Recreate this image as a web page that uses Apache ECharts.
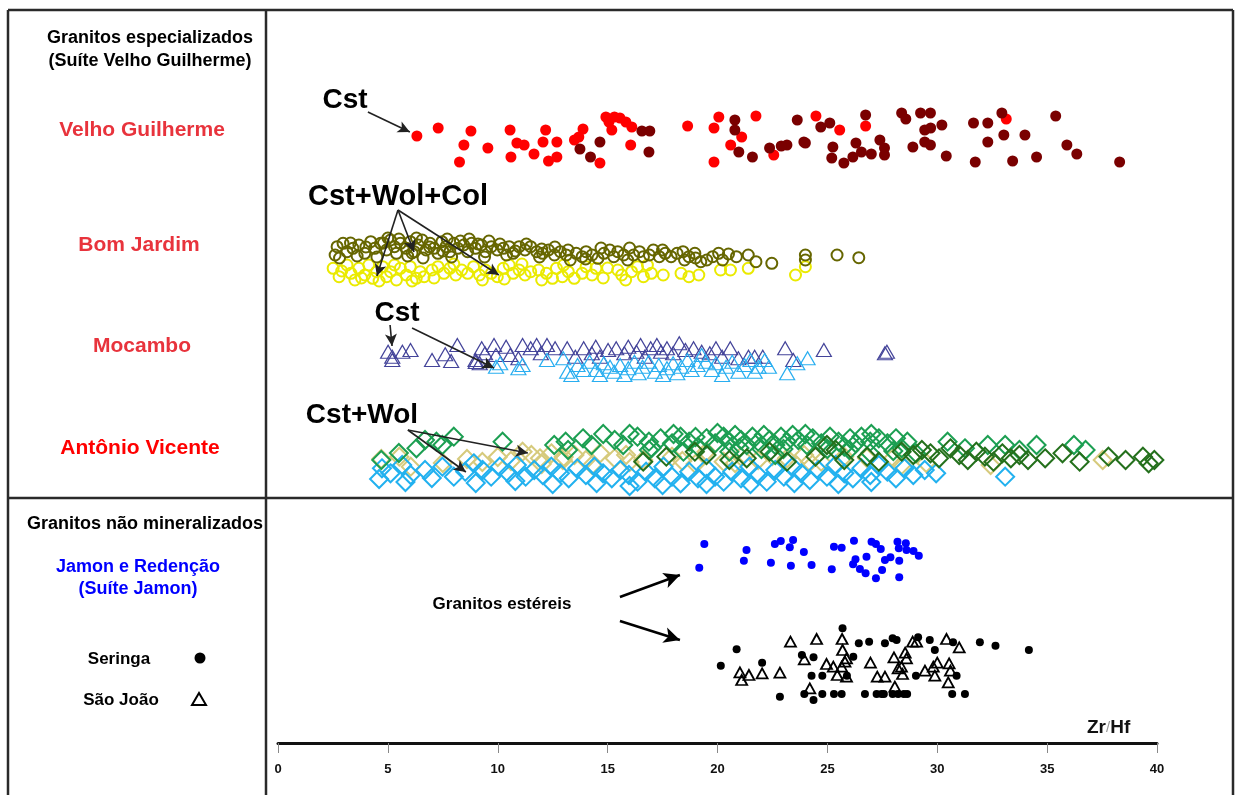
<!DOCTYPE html>
<html><head><meta charset="utf-8">
<script src="https://cdn.jsdelivr.net/npm/echarts@6/dist/echarts.min.js"></script>
<style>html,body{margin:0;padding:0;background:#fff}#c{width:1237px;height:795px}</style>
</head><body><div id="c"></div>
<script>
// x = Zr/Hf ratio ; y = arbitrary vertical jitter position (0 = axis line, ~73 = top)
const xTicks = [0,5,10,15,20,25,30,35,40];

const vgRed = [[6.32,60.7],[7.29,61.5],[8.78,61.2],[8.46,59.8],[8.26,58.1],[9.55,59.5],[10.56,61.3],[10.6,58.6],[10.87,60.0],[11.2,59.8],[11.65,58.9],[12.18,61.3],[12.06,60.1],[12.31,58.2],[12.69,60.1],[12.69,58.6],[13.49,60.3],[13.88,61.4],[13.69,60.6],[14.65,58.0],[15.06,62.1],[15.31,62.6],[15.56,62.5],[15.19,61.3],[15.83,62.1],[16.1,61.6],[16.05,59.8],[14.92,62.6],[18.64,61.7],[19.84,61.5],[20.06,62.6],[20.6,59.8],[19.84,58.1],[21.1,60.6],[21.75,62.7],[22.56,58.8],[24.48,62.7],[25.56,61.3],[26.74,61.7],[33.14,62.4]];
const vgDark = [[13.74,59.4],[14.22,58.6],[14.65,60.1],[16.56,61.2],[16.92,61.2],[16.88,59.1],[20.79,62.3],[20.79,61.3],[20.97,59.1],[21.59,58.6],[22.37,59.5],[23.16,59.8],[23.63,62.3],[23.93,60.1],[24.7,61.6],[25.11,62.0],[25.25,59.6],[25.2,58.5],[25.75,58.0],[26.16,58.6],[26.3,60.0],[26.55,59.1],[26.74,62.8],[27.39,60.3],[27.6,59.5],[27.6,58.8],[28.38,63.0],[28.57,62.4],[29.24,63.0],[29.69,63.0],[29.43,61.3],[29.43,60.1],[28.89,59.6],[29.69,59.8],[30.21,61.8],[30.41,58.7],[31.65,62.0],[32.3,62.0],[32.3,60.1],[31.73,58.1],[32.94,63.0],[33.03,60.8],[33.43,58.2],[33.99,60.8],[34.52,58.6],[35.39,62.7],[35.9,59.8],[36.35,58.9],[38.3,58.1],[22.9,59.7],[24.0,60.0],[27.0,58.9],[29.7,61.5]];

const bjOlive = [[2.69,49.63],[2.6,48.8],[2.96,49.97],[3.14,49.13],[3.41,49.47],[3.68,49.8],[3.95,48.97],[4.22,50.13],[4.4,49.47],[4.67,49.97],[4.94,49.3],[5.12,50.3],[5.3,49.63],[5.39,48.97],[5.57,49.97],[5.84,49.47],[6.02,50.13],[6.2,49.13],[6.38,49.8],[6.56,50.3],[6.74,49.3],[6.92,49.97],[7.1,49.47],[7.28,48.97],[7.46,50.13],[7.64,49.63],[7.82,49.13],[8.0,49.97],[8.18,49.47],[8.45,49.8],[8.63,49.13],[8.81,49.97],[8.99,49.47],[9.26,49.8],[9.44,49.13],[9.71,49.63],[9.98,49.3],[10.25,49.47],[10.52,49.63],[10.7,48.97],[10.97,49.63],[11.24,49.3],[11.5,49.63],[11.77,49.13],[12.04,48.97],[12.31,49.3],[12.58,48.8],[12.85,49.13],[13.12,48.8],[13.3,48.3],[13.57,48.97],[13.84,48.63],[14.02,49.13],[14.29,48.8],[14.56,48.47],[14.83,48.97],[15.1,49.3],[15.28,48.63],[15.46,49.13],[15.73,48.8],[15.91,48.3],[16.18,48.8],[16.45,49.13],[16.63,48.63],[16.9,48.8],[17.08,49.3],[17.35,48.63],[17.62,48.97],[17.89,48.63],[18.16,48.97],[18.43,49.13],[18.7,48.63],[18.97,48.97],[19.24,48.13],[19.51,48.3],[19.78,48.63],[20.05,48.97],[20.23,48.3],[20.86,48.63],[21.4,48.8],[21.75,48.13],[22.47,47.97],[24.0,48.8],[24.0,48.3],[25.44,48.8],[26.43,48.53],[3.3,50.0],[4.0,49.6],[4.8,50.0],[5.5,50.4],[6.1,49.0],[6.9,49.6],[7.5,49.2],[8.3,50.2],[9.1,49.9],[9.6,50.2],[10.1,49.9],[10.8,49.2],[11.3,49.9],[12.0,49.4],[12.6,49.6],[13.2,49.3],[14.0,48.4],[14.7,49.5],[16.0,49.5],[17.5,49.3],[18.5,48.3],[19.0,48.5],[20.5,48.9],[2.8,48.5],[3.6,48.7],[4.5,48.6],[5.9,48.7],[6.6,48.5],[7.9,48.6],[9.4,48.6],[10.4,48.8],[11.9,48.6],[5.0,50.5],[6.3,50.5],[7.7,50.4],[8.7,50.4]];
const bjYellow = [[2.51,47.47],[2.78,46.63],[3.14,47.8],[3.32,46.97],[3.5,46.3],[3.68,47.47],[3.95,46.8],[4.13,47.8],[4.31,46.47],[4.49,47.13],[4.76,47.63],[4.94,46.63],[5.12,47.13],[5.39,46.3],[5.57,47.47],[5.84,46.8],[6.02,47.63],[6.29,46.47],[6.47,47.13],[6.65,46.63],[7.01,47.3],[7.28,47.63],[7.55,46.97],[7.82,47.47],[8.09,46.8],[8.36,47.3],[8.63,46.97],[8.9,47.63],[9.17,46.8],[9.44,47.3],[9.71,46.97],[9.98,46.63],[10.25,47.47],[10.52,47.8],[10.7,46.97],[10.97,47.3],[11.24,46.8],[11.5,47.13],[11.86,47.3],[12.22,46.97],[12.49,46.47],[12.67,47.47],[12.94,46.63],[13.21,47.13],[13.48,46.47],[13.84,46.97],[14.02,47.63],[14.29,46.8],[14.47,47.47],[15.46,47.3],[15.64,46.8],[15.82,46.3],[16.09,47.13],[16.36,47.63],[16.63,46.63],[16.81,47.8],[16.99,46.97],[17.53,46.8],[18.34,46.97],[18.7,46.63],[19.15,46.8],[20.14,47.3],[20.59,47.3],[21.4,47.47],[23.55,46.8],[24.0,47.63],[2.9,47.2],[3.8,46.5],[4.6,46.2],[5.3,47.8],[6.1,46.2],[7.1,46.5],[8.0,47.9],[9.3,46.3],[10.3,46.4],[11.1,47.9],[12.0,46.3],[13.0,47.8],[14.8,46.5],[15.0,47.5]];

const mocPurple = [[5.01,39.13],[5.2,38.63],[5.66,39.13],[6.03,39.3],[7.01,38.3],[7.61,38.87],[7.88,38.2],[8.16,39.8],[8.99,38.3],[9.27,39.47],[9.42,38.97],[9.83,39.8],[9.92,38.8],[10.38,39.63],[10.57,38.8],[10.94,38.47],[11.13,39.8],[11.5,39.47],[11.77,39.8],[11.96,38.97],[12.24,39.8],[12.61,39.47],[13.16,39.47],[13.53,38.63],[13.91,39.47],[14.28,38.97],[14.46,39.63],[14.65,38.63],[15.02,39.3],[15.39,39.47],[15.76,38.97],[15.94,39.63],[16.31,39.13],[16.5,39.8],[16.69,38.63],[16.96,39.47],[17.24,39.8],[17.43,39.13],[17.7,39.47],[17.98,38.97],[18.26,39.97],[18.54,39.3],[18.91,39.47],[19.28,39.13],[19.65,38.97],[19.93,39.47],[20.21,38.63],[20.58,39.47],[20.95,38.47],[21.41,38.63],[21.69,38.63],[22.06,38.63],[23.08,39.47],[23.45,38.3],[24.84,39.3],[27.62,38.97],[27.71,39.13],[5.2,38.3],[9.18,37.97],[9.0,38.1]];
const mocBlue = [[9.92,37.63],[10.11,37.97],[10.94,37.47],[11.13,37.8],[12.24,38.3],[12.98,38.47],[13.16,37.13],[13.35,36.8],[13.63,37.8],[13.91,37.3],[14.18,38.13],[14.46,37.3],[14.65,36.8],[14.83,37.97],[15.11,37.63],[15.3,37.13],[15.57,37.8],[15.76,36.8],[15.94,37.47],[16.22,38.13],[16.41,36.97],[16.59,37.63],[16.87,38.13],[17.15,37.13],[17.33,37.8],[17.52,36.8],[17.7,37.47],[17.98,37.97],[18.17,36.97],[18.35,37.63],[18.63,38.3],[18.82,37.3],[19.09,37.8],[19.28,38.8],[19.47,38.13],[19.74,37.3],[19.93,37.97],[20.21,36.8],[20.39,37.63],[20.67,38.13],[20.95,37.13],[21.23,37.8],[21.5,38.3],[21.69,37.13],[21.87,37.63],[22.15,38.3],[22.34,37.63],[23.17,36.97],[23.63,37.97],[24.1,38.47]];

const avKhaki = [[4.7,28.4],[5.52,28.63],[6.04,27.63],[7.5,28.0],[8.6,28.4],[9.3,28.1],[10.0,28.6],[10.6,28.2],[11.13,29.13],[11.53,28.8],[11.92,28.47],[12.0,27.9],[12.44,28.97],[12.96,28.3],[13.0,28.6],[13.49,28.8],[14.01,28.3],[14.3,27.8],[14.66,28.97],[15.32,28.47],[15.84,28.8],[16.0,28.1],[16.62,28.3],[17.93,28.63],[18.4,28.2],[19.0,27.9],[19.5,29.13],[20.28,28.13],[20.8,28.0],[21.07,28.63],[21.85,28.3],[22.5,28.7],[23.16,28.47],[23.94,28.8],[24.2,28.1],[24.72,28.13],[25.77,28.63],[26.8,28.5],[28.0,28.5],[28.38,27.8],[29.5,28.0],[32.43,27.8],[37.53,28.3]];
const avBlue = [[4.73,27.47],[5.12,26.97],[5.65,27.8],[6.04,26.8],[6.69,27.3],[7.48,27.63],[8.0,26.63],[8.52,27.13],[8.91,27.97],[9.31,27.3],[9.7,26.63],[10.09,27.63],[10.48,26.97],[10.87,27.8],[11.27,26.63],[11.66,27.3],[12.05,26.8],[12.44,27.63],[12.83,26.97],[13.23,26.47],[13.62,27.47],[14.01,26.8],[14.4,27.63],[14.79,26.97],[15.19,26.47],[15.58,27.3],[15.97,26.8],[16.36,26.13],[16.75,27.13],[17.15,26.47],[17.54,27.63],[17.93,26.63],[18.32,25.97],[18.71,27.13],[19.11,26.47],[19.5,27.47],[19.89,26.63],[20.28,26.13],[20.67,27.13],[21.07,26.47],[21.46,27.63],[21.85,26.8],[22.24,26.13],[22.63,27.3],[23.02,26.63],[23.42,27.63],[23.81,26.97],[24.2,26.3],[24.59,27.3],[24.98,26.63],[25.38,27.8],[25.77,26.97],[26.16,26.47],[26.55,27.47],[26.95,26.8],[27.34,27.8],[27.73,27.13],[28.12,26.47],[28.51,27.47],[28.91,26.8],[29.43,27.3],[29.95,26.97],[33.09,26.63],[4.6,26.4],[5.8,26.1],[7.0,26.5],[9.0,26.0],[10.8,26.2],[12.5,25.9],[14.5,26.0],[16.0,25.7],[17.5,25.8],[19.5,25.9],[21.5,25.9],[23.5,26.0],[25.5,25.9],[27.0,26.1]];
const avGreen = [[4.7,28.3],[5.5,29.0],[6.3,29.47],[6.69,30.3],[7.21,30.13],[7.48,29.8],[8.0,30.63],[10.22,30.13],[12.57,29.8],[13.09,30.13],[13.2,29.3],[13.88,30.47],[14.27,29.8],[14.8,30.9],[15.32,30.3],[15.71,29.8],[16.0,30.9],[16.36,30.63],[16.88,30.13],[16.88,29.3],[17.0,29.5],[17.41,30.47],[17.93,29.97],[18.0,30.9],[18.32,30.63],[18.45,29.13],[18.71,30.13],[19.0,30.6],[19.11,29.63],[19.5,30.47],[19.89,29.97],[20.0,31.0],[20.28,30.63],[20.54,30.13],[20.54,29.13],[20.8,30.8],[21.0,29.5],[21.07,30.3],[21.33,29.8],[21.59,30.63],[21.85,30.13],[22.0,29.4],[22.11,30.8],[22.37,30.3],[22.63,29.8],[22.63,28.8],[22.89,30.63],[23.0,29.4],[23.16,30.13],[23.42,30.8],[23.68,30.3],[24.0,30.9],[24.07,29.8],[24.33,30.47],[24.72,29.97],[25.0,29.4],[25.12,30.63],[25.51,30.13],[25.77,29.63],[26.0,29.3],[26.03,30.47],[26.29,29.97],[26.55,30.63],[26.95,30.13],[26.95,28.97],[27.0,30.9],[27.34,30.47],[27.73,29.97],[28.0,29.2],[28.12,30.47],[28.38,29.47],[28.64,30.13],[29.03,28.97],[30.47,30.13],[31.26,29.47],[32.3,29.8],[33.09,29.8],[33.74,29.3],[34.52,29.8],[36.22,29.8],[36.75,29.3]];
const avDark = [[16.62,28.13],[17.67,28.63],[18.97,29.13],[19.5,28.8],[20.54,28.3],[21.33,28.47],[22.37,29.13],[23.16,28.13],[24.46,28.63],[24.98,29.8],[25.38,29.3],[25.77,28.3],[26.81,28.63],[27.34,28.13],[28.38,29.13],[28.91,28.8],[29.3,29.3],[29.69,28.97],[30.08,28.47],[30.6,29.47],[31.0,28.8],[31.39,28.3],[31.78,29.13],[32.17,28.63],[32.56,28.13],[32.96,28.97],[33.35,28.47],[33.74,28.8],[34.13,28.3],[34.91,28.47],[35.7,28.97],[36.48,28.13],[37.79,28.63],[38.57,28.3],[39.36,28.63],[39.62,27.97],[39.88,28.3]];

const jamon = [[19.4,19.9],[19.17,17.53],[21.32,19.3],[21.2,18.23],[22.61,19.9],[22.88,20.2],[23.44,20.3],[23.29,19.57],[23.93,19.1],[23.34,17.73],[22.43,18.03],[24.28,17.8],[25.3,19.63],[25.65,19.53],[25.2,17.37],[26.21,20.23],[26.28,18.37],[26.17,17.87],[26.48,17.4],[26.74,16.97],[26.78,18.63],[27.01,20.13],[27.21,19.9],[27.43,19.4],[27.62,18.3],[27.87,18.57],[27.49,17.3],[27.21,16.47],[28.19,20.13],[28.25,19.47],[28.27,18.23],[28.27,16.57],[28.57,19.97],[28.6,19.3],[28.92,19.2],[29.16,18.73]];
const seringa = [[25.69,11.47],[20.87,9.37],[20.15,7.73],[22.03,8.03],[22.84,4.63],[23.84,8.8],[24.37,8.57],[23.95,4.9],[24.37,4.3],[24.28,6.73],[24.77,6.73],[24.77,4.9],[25.3,4.9],[25.65,4.9],[25.89,6.73],[26.18,8.63],[26.43,9.97],[26.9,10.13],[27.62,9.97],[27.97,10.47],[28.15,10.3],[26.71,4.9],[27.24,4.9],[27.47,4.9],[27.57,4.9],[27.97,4.9],[28.22,4.9],[28.48,4.9],[28.63,4.9],[29.13,10.57],[29.66,10.3],[29.89,9.3],[29.03,6.73],[30.72,10.07],[30.88,6.73],[30.68,4.9],[31.26,4.9],[31.94,10.07],[32.65,9.73],[34.17,9.3]];
const saoJoao = [[23.32,10.13],[24.51,10.4],[25.67,10.4],[25.69,9.3],[23.95,8.37],[24.96,7.9],[25.27,7.63],[25.65,7.63],[25.8,8.13],[25.87,8.47],[25.45,6.8],[25.87,6.63],[26.96,8.03],[27.27,6.63],[27.62,6.63],[28.03,8.57],[28.54,9.03],[28.6,8.47],[28.22,7.47],[28.37,7.63],[28.42,6.9],[28.88,10.13],[29.06,10.13],[30.42,10.4],[31.0,9.57],[30.0,8.03],[29.82,7.63],[29.44,7.23],[29.89,6.73],[30.54,7.97],[30.6,7.23],[30.5,6.07],[24.2,5.47],[28.07,5.63],[21.02,7.07],[21.43,6.8],[21.1,6.3],[22.03,6.97],[22.84,7.03]];

const chart = echarts.init(document.getElementById('c'), null, {renderer:'canvas'});
const F = "'Liberation Sans', Arial, sans-serif";
function filled(name, data, color, size){
  return {name, type:'scatter', data, symbol:'circle', symbolSize:size, clip:false,
    itemStyle:{color, opacity:1}, silent:true, z:3};
}
function hollow(name, data, symbol, color, size, bw){
  return {name, type:'scatter', data, symbol, symbolSize:size, clip:false,
    itemStyle:{color:'rgba(0,0,0,0)', borderColor:color, borderWidth:bw, opacity:1}, silent:true, z:3};
}
function arr(a,b){ return [{coord:a},{coord:b}]; }
const arrows = {type:'scatter', data:[], silent:true, z:10,
  markLine:{silent:true, symbol:['none','arrow'], symbolSize:[9,12], label:{show:false},
    lineStyle:{color:'#222', width:1.6, type:'solid'}, animation:false,
    data:[
      arr([4.09,63.1],[6.0,61.1]),
      arr([5.46,53.3],[4.5,46.7]), arr([5.46,53.3],[6.19,49.1]), arr([5.46,53.3],[10.05,46.8]),
      arr([5.1,41.8],[5.19,39.7]), arr([6.1,41.5],[9.83,37.5]),
      arr([5.91,31.3],[8.55,27.1]), arr([5.91,31.3],[11.37,29.0])
    ]}};
const arrows2 = {type:'scatter', data:[], silent:true, z:10,
  markLine:{silent:true, symbol:['none','arrow'], symbolSize:[12,16], label:{show:false},
    lineStyle:{color:'#000', width:2.5, type:'solid'}, animation:false,
    data:[ arr([15.56,14.6],[18.29,16.8]), arr([15.56,12.2],[18.29,10.3]) ]}};

function txt(x,y,text,size,color,align){
  return {type:'text', x, y, silent:true, z:20,
    style:{text, font:`bold ${size}px ${F}`, fill:color||'#000', textAlign:align||'center', textVerticalAlign:'middle'}};
}
function ln(x1,y1,x2,y2){ return {type:'line', silent:true, z:15, shape:{x1,y1,x2,y2}, style:{stroke:'#2a2a2a', lineWidth:2.5}}; }

const option = {
  animation:false,
  backgroundColor:'#fff',
  grid:{left:278, right:80, top:10, bottom:52},
  xAxis:{type:'value', min:0, max:40, interval:5,
    axisLine:{show:true, lineStyle:{color:'#111', width:3}},
    axisTick:{show:true, length:10, lineStyle:{color:'#888', width:1}},
    axisLabel:{margin:20, color:'#111', fontSize:13, fontWeight:'bold', fontFamily:"'Liberation Sans Narrow','Liberation Sans',Arial",
      formatter:v=> xTicks.includes(v)? String(v): ''},
    splitLine:{show:false}},
  yAxis:{type:'value', min:0, max:73.3, show:false, splitLine:{show:false}},
  series:[
    filled('Velho Guilherme (Cst)', vgRed, '#ff0000', 11),
    filled('Velho Guilherme', vgDark, '#7a0000', 11),
    hollow('Bom Jardim (Cst+Wol+Col)', bjYellow, 'circle', '#eaea00', 11, 2),
    hollow('Bom Jardim', bjOlive, 'circle', '#666600', 11, 2),
    hollow('Mocambo', mocPurple, 'triangle', '#44449a', [15,13], 1.2),
    hollow('Mocambo (Cst)', mocBlue, 'triangle', '#29aef0', [15,13], 1.2),
    hollow('Antônio Vicente (Cst+Wol)', avKhaki, 'diamond', '#d6ca7c', 18, 2),
    hollow('Antônio Vicente b', avBlue, 'diamond', '#22b1ef', 18, 2),
    hollow('Antônio Vicente', avGreen, 'diamond', '#1c9f52', 18, 2),
    hollow('Antônio Vicente d', avDark, 'diamond', '#24701c', 18, 2),
    filled('Jamon e Redenção', jamon, '#0000ff', 8),
    filled('Seringa', seringa, '#000', 8),
    hollow('São João', saoJoao, 'triangle', '#000', [11,10], 1.8),
    arrows, arrows2
  ],
  graphic:[
    ln(8,10,1233,10), ln(8,10,8,795), ln(1233,10,1233,795), ln(266,10,266,795), ln(8,498,1233,498),
    txt(150,38,'Granitos especializados',18,'#000'),
    txt(150,61,'(Suíte Velho Guilherme)',18,'#000'),
    txt(142,130,'Velho Guilherme',21,'#e8333c'),
    txt(139,245,'Bom Jardim',21,'#e8333c'),
    txt(142,346,'Mocambo',21,'#e8333c'),
    txt(140,448,'Antônio Vicente',21,'#ff0000'),
    txt(27,524,'Granitos não mineralizados',18,'#000','left'),
    txt(138,567,'Jamon e Redenção',18,'#0000ff'),
    txt(138,589,'(Suíte Jamon)',18,'#0000ff'),
    txt(119,659,'Seringa',17,'#000'),
    txt(121,700,'São João',17,'#000'),
    {type:'circle', silent:true, z:20, shape:{cx:200, cy:658, r:5.5}, style:{fill:'#000'}},
    {type:'polygon', silent:true, z:20, shape:{points:[[199,693],[206,705],[192,705]]}, style:{fill:'none', stroke:'#000', lineWidth:2}},
    txt(345,100,'Cst',28,'#000'),
    txt(398,197,'Cst+Wol+Col',29,'#000'),
    txt(397,313,'Cst',28,'#000'),
    txt(362,415,'Cst+Wol',28,'#000'),
    txt(502,604,'Granitos estéreis',17,'#000'),
    {type:'text', silent:true, z:20, x:1087, y:728,
      style:{rich:{a:{font:`bold 19px 'Liberation Sans Narrow','Liberation Sans',Arial`, fill:'#111'}, s:{font:`15px 'Liberation Sans',Arial`, fill:'#999'}},
        text:'{a|Zr}{s|/}{a|Hf}', textVerticalAlign:'middle'}}
  ]
};
chart.setOption(option);
</script></body></html>
